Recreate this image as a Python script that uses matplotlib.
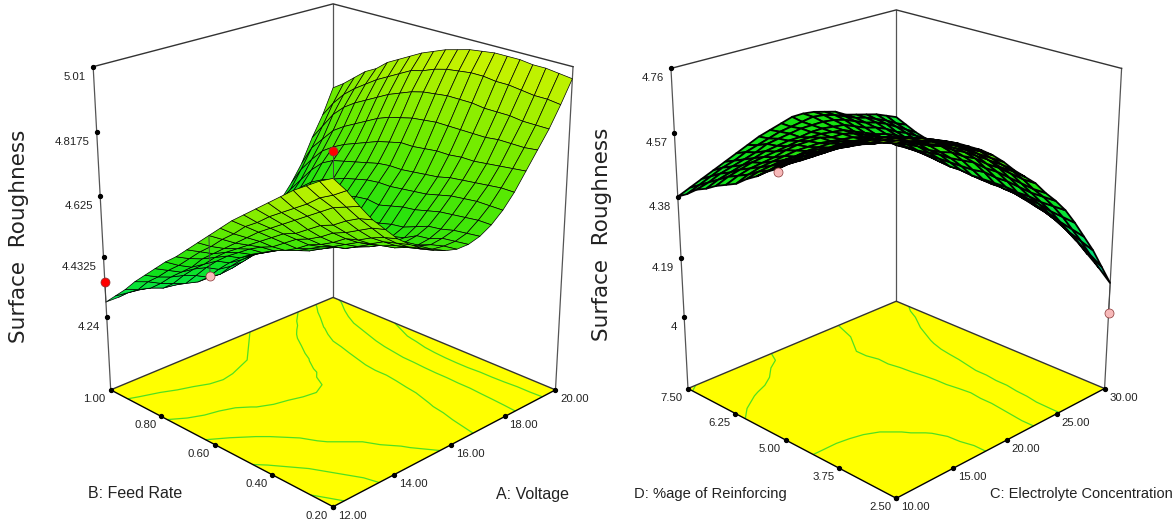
import numpy as np
import matplotlib
matplotlib.use('Agg')
import matplotlib.pyplot as plt
from matplotlib.colors import LinearSegmentedColormap, Normalize
from mpl_toolkits.mplot3d import proj3d

# left surface, rows = feed rate 0.20 -> 1.00, columns = voltage 12 -> 20
voltage = np.linspace(12, 20, 21)
feed_rate = np.linspace(0.2, 1.0, 21)
roughness_ab = np.array([
    [4.93, 4.885, 4.83, 4.78, 4.74, 4.70, 4.67, 4.645, 4.625, 4.61, 4.60, 4.60, 4.61, 4.63, 4.66, 4.70, 4.75, 4.80, 4.85, 4.91, 4.975],
    [4.91, 4.86, 4.815, 4.77, 4.73, 4.69, 4.66, 4.635, 4.615, 4.60, 4.595, 4.595, 4.605, 4.63, 4.66, 4.70, 4.745, 4.795, 4.85, 4.915, 4.98],
    [4.885, 4.84, 4.80, 4.75, 4.71, 4.675, 4.65, 4.625, 4.605, 4.595, 4.585, 4.59, 4.60, 4.625, 4.66, 4.695, 4.74, 4.795, 4.85, 4.915, 4.985],
    [4.86, 4.81, 4.775, 4.725, 4.69, 4.655, 4.63, 4.61, 4.59, 4.58, 4.57, 4.575, 4.59, 4.62, 4.655, 4.69, 4.735, 4.795, 4.855, 4.92, 4.985],
    [4.83, 4.785, 4.75, 4.71, 4.675, 4.645, 4.62, 4.60, 4.585, 4.575, 4.565, 4.57, 4.585, 4.615, 4.65, 4.685, 4.73, 4.79, 4.855, 4.925, 4.99],
    [4.80, 4.76, 4.725, 4.685, 4.65, 4.62, 4.60, 4.58, 4.565, 4.555, 4.55, 4.55, 4.57, 4.605, 4.64, 4.68, 4.73, 4.79, 4.855, 4.925, 4.99],
    [4.77, 4.735, 4.70, 4.66, 4.63, 4.60, 4.58, 4.56, 4.55, 4.54, 4.535, 4.54, 4.555, 4.595, 4.63, 4.67, 4.725, 4.79, 4.86, 4.93, 4.99],
    [4.74, 4.705, 4.675, 4.645, 4.615, 4.585, 4.565, 4.55, 4.54, 4.53, 4.525, 4.53, 4.55, 4.59, 4.625, 4.665, 4.725, 4.79, 4.86, 4.93, 4.985],
    [4.71, 4.68, 4.65, 4.62, 4.59, 4.56, 4.545, 4.53, 4.52, 4.515, 4.51, 4.515, 4.54, 4.58, 4.62, 4.66, 4.72, 4.79, 4.86, 4.925, 4.98],
    [4.675, 4.645, 4.62, 4.595, 4.565, 4.54, 4.525, 4.51, 4.505, 4.50, 4.495, 4.505, 4.535, 4.57, 4.615, 4.655, 4.715, 4.785, 4.855, 4.92, 4.97],
    [4.64, 4.615, 4.59, 4.57, 4.55, 4.525, 4.515, 4.505, 4.50, 4.495, 4.495, 4.51, 4.535, 4.575, 4.615, 4.655, 4.715, 4.78, 4.85, 4.91, 4.96],
    [4.605, 4.58, 4.56, 4.545, 4.53, 4.505, 4.495, 4.49, 4.485, 4.485, 4.49, 4.50, 4.53, 4.57, 4.61, 4.65, 4.705, 4.77, 4.84, 4.895, 4.945],
    [4.57, 4.55, 4.53, 4.52, 4.505, 4.485, 4.475, 4.47, 4.47, 4.475, 4.485, 4.495, 4.52, 4.56, 4.60, 4.64, 4.695, 4.76, 4.825, 4.885, 4.93],
    [4.535, 4.515, 4.50, 4.49, 4.48, 4.46, 4.455, 4.45, 4.455, 4.46, 4.47, 4.485, 4.51, 4.55, 4.59, 4.63, 4.68, 4.745, 4.81, 4.865, 4.91],
    [4.505, 4.48, 4.46, 4.455, 4.45, 4.43, 4.425, 4.425, 4.43, 4.44, 4.45, 4.47, 4.495, 4.535, 4.575, 4.62, 4.665, 4.725, 4.79, 4.845, 4.89],
    [4.47, 4.45, 4.43, 4.425, 4.415, 4.395, 4.39, 4.39, 4.40, 4.41, 4.425, 4.445, 4.475, 4.515, 4.56, 4.61, 4.65, 4.705, 4.77, 4.825, 4.87],
    [4.435, 4.415, 4.40, 4.39, 4.375, 4.355, 4.35, 4.355, 4.365, 4.38, 4.395, 4.415, 4.45, 4.49, 4.54, 4.59, 4.63, 4.685, 4.75, 4.80, 4.84],
    [4.40, 4.385, 4.365, 4.35, 4.335, 4.325, 4.325, 4.33, 4.34, 4.35, 4.365, 4.39, 4.42, 4.46, 4.51, 4.555, 4.605, 4.66, 4.725, 4.775, 4.82],
    [4.36, 4.345, 4.335, 4.32, 4.315, 4.315, 4.315, 4.32, 4.325, 4.335, 4.35, 4.365, 4.39, 4.43, 4.47, 4.51, 4.565, 4.62, 4.69, 4.745, 4.79],
    [4.325, 4.32, 4.315, 4.31, 4.31, 4.31, 4.31, 4.315, 4.32, 4.33, 4.34, 4.35, 4.37, 4.40, 4.435, 4.465, 4.52, 4.58, 4.64, 4.705, 4.76],
    [4.29, 4.29, 4.30, 4.305, 4.31, 4.315, 4.32, 4.325, 4.33, 4.335, 4.34, 4.345, 4.35, 4.36, 4.38, 4.415, 4.46, 4.515, 4.59, 4.655, 4.735],
])

# right surface, rows = reinforcing 2.50 -> 7.50, columns = electrolyte 10 -> 30
electrolyte = np.linspace(10, 30, 21)
reinforcing = np.linspace(2.5, 7.5, 21)
roughness_cd = np.array([
    [4.76, 4.755, 4.745, 4.735, 4.72, 4.705, 4.685, 4.665, 4.64, 4.61, 4.575, 4.545, 4.515, 4.475, 4.44, 4.40, 4.35, 4.295, 4.24, 4.175, 4.11],
    [4.75, 4.745, 4.74, 4.73, 4.715, 4.70, 4.68, 4.66, 4.64, 4.61, 4.58, 4.55, 4.515, 4.475, 4.44, 4.40, 4.355, 4.305, 4.255, 4.20, 4.145],
    [4.74, 4.735, 4.73, 4.72, 4.705, 4.69, 4.675, 4.655, 4.635, 4.61, 4.58, 4.55, 4.52, 4.48, 4.44, 4.40, 4.36, 4.315, 4.27, 4.225, 4.175],
    [4.73, 4.725, 4.72, 4.71, 4.70, 4.685, 4.67, 4.65, 4.635, 4.61, 4.59, 4.56, 4.525, 4.485, 4.445, 4.405, 4.37, 4.33, 4.29, 4.25, 4.205],
    [4.715, 4.71, 4.705, 4.70, 4.685, 4.67, 4.655, 4.645, 4.625, 4.605, 4.59, 4.56, 4.525, 4.49, 4.45, 4.405, 4.375, 4.34, 4.305, 4.27, 4.23],
    [4.695, 4.695, 4.69, 4.68, 4.67, 4.655, 4.645, 4.63, 4.615, 4.60, 4.585, 4.56, 4.53, 4.49, 4.45, 4.41, 4.38, 4.35, 4.315, 4.285, 4.25],
    [4.67, 4.67, 4.67, 4.665, 4.655, 4.645, 4.635, 4.62, 4.605, 4.595, 4.585, 4.555, 4.525, 4.495, 4.455, 4.41, 4.38, 4.355, 4.325, 4.30, 4.27],
    [4.65, 4.65, 4.65, 4.645, 4.64, 4.635, 4.625, 4.615, 4.60, 4.59, 4.58, 4.555, 4.525, 4.49, 4.45, 4.41, 4.385, 4.36, 4.335, 4.31, 4.285],
    [4.625, 4.625, 4.625, 4.625, 4.62, 4.615, 4.605, 4.60, 4.59, 4.58, 4.565, 4.545, 4.515, 4.485, 4.45, 4.41, 4.385, 4.36, 4.34, 4.32, 4.30],
    [4.605, 4.605, 4.605, 4.605, 4.605, 4.60, 4.595, 4.59, 4.58, 4.57, 4.56, 4.54, 4.51, 4.485, 4.45, 4.415, 4.39, 4.37, 4.35, 4.33, 4.31],
    [4.58, 4.585, 4.59, 4.59, 4.59, 4.585, 4.58, 4.575, 4.57, 4.56, 4.555, 4.535, 4.51, 4.48, 4.45, 4.415, 4.395, 4.37, 4.355, 4.34, 4.32],
    [4.56, 4.565, 4.57, 4.57, 4.57, 4.565, 4.565, 4.56, 4.555, 4.545, 4.54, 4.525, 4.505, 4.475, 4.45, 4.42, 4.395, 4.38, 4.36, 4.345, 4.33],
    [4.535, 4.54, 4.55, 4.555, 4.555, 4.555, 4.55, 4.55, 4.545, 4.535, 4.53, 4.515, 4.50, 4.475, 4.45, 4.425, 4.40, 4.38, 4.365, 4.35, 4.34],
    [4.515, 4.525, 4.53, 4.535, 4.535, 4.54, 4.54, 4.54, 4.535, 4.525, 4.52, 4.51, 4.495, 4.47, 4.45, 4.43, 4.41, 4.385, 4.37, 4.355, 4.345],
    [4.49, 4.505, 4.515, 4.52, 4.525, 4.53, 4.53, 4.53, 4.525, 4.52, 4.515, 4.505, 4.495, 4.475, 4.455, 4.435, 4.415, 4.395, 4.375, 4.36, 4.35],
    [4.475, 4.49, 4.50, 4.505, 4.51, 4.52, 4.525, 4.525, 4.525, 4.515, 4.515, 4.505, 4.49, 4.475, 4.455, 4.445, 4.425, 4.405, 4.385, 4.37, 4.355],
    [4.46, 4.475, 4.485, 4.495, 4.50, 4.505, 4.51, 4.515, 4.515, 4.515, 4.51, 4.505, 4.49, 4.475, 4.46, 4.45, 4.435, 4.415, 4.395, 4.38, 4.36],
    [4.44, 4.455, 4.465, 4.475, 4.485, 4.495, 4.50, 4.505, 4.505, 4.51, 4.51, 4.505, 4.50, 4.485, 4.47, 4.46, 4.445, 4.425, 4.41, 4.39, 4.37],
    [4.425, 4.435, 4.45, 4.46, 4.47, 4.48, 4.495, 4.50, 4.505, 4.51, 4.51, 4.51, 4.505, 4.495, 4.48, 4.465, 4.455, 4.44, 4.42, 4.40, 4.38],
    [4.40, 4.415, 4.43, 4.445, 4.455, 4.47, 4.48, 4.49, 4.50, 4.505, 4.51, 4.515, 4.51, 4.50, 4.485, 4.47, 4.46, 4.445, 4.43, 4.41, 4.395],
    [4.38, 4.395, 4.41, 4.425, 4.44, 4.455, 4.47, 4.485, 4.495, 4.505, 4.515, 4.515, 4.51, 4.50, 4.49, 4.47, 4.46, 4.45, 4.44, 4.425, 4.41],
])

# tick labels
a_ticks = ['12.00', '14.00', '16.00', '18.00', '20.00']
b_ticks = ['0.20', '0.40', '0.60', '0.80', '1.00']
z_ticks_ab = ['4.24', '4.4325', '4.625', '4.8175', '5.01']
c_ticks = ['10.00', '15.00', '20.00', '25.00', '30.00']
d_ticks = ['2.50', '3.75', '5.00', '6.25', '7.50']
z_ticks_cd = ['4', '4.19', '4.38', '4.57', '4.76']

# contour levels on the floor
levels_ab = [4.35, 4.49, 4.61, 4.75, 4.89]
levels_cd = [4.39, 4.49, 4.64]

# design points: x, y, z, colour
points_ab = [(12, 1.0, 4.355, 'red'), (12, 0.6, 4.52, '#f7b9b9'), (12, 0.2, 5.0, 'red')]
points_cd = [(10, 5.0, 4.57, '#f7b9b9'), (30, 2.5, 4.015, '#f7b9b9')]

cmap = LinearSegmentedColormap.from_list('rsm', [
    (0.00, (0.0, 0.72, 0.72)),
    (0.16, (0.0, 0.84, 0.55)),
    (0.26, (0.0, 0.90, 0.36)),
    (0.47, (0.07, 0.88, 0.07)),
    (0.68, (0.40, 0.92, 0.0)),
    (1.00, (0.88, 0.96, 0.0))])
norm = Normalize(4.05, 5.0)


def put_label(ax, x, y, z, s, dx, dy, ha='center'):
    px, py, _ = proj3d.proj_transform(x, y, z, ax.get_proj())
    ax.annotate(s, (px, py), xytext=(dx, dy), textcoords='offset pixels', ha=ha, va='center',
                family='Liberation Sans', fontsize=8.2, color='#222222', annotation_clip=False)


def draw_panel(rect, xs, ys, zs, floor, ztop, xt, yt, zt, levels, points, line_w, z_box):
    ax = fig.add_axes(rect, projection='3d', computed_zorder=False)
    ax.set_proj_type('persp', focal_length=0.58)
    ax.view_init(elev=22.5, azim=-135)
    ax.set_box_aspect((1, 1, z_box), zoom=1.0)
    ax.set_xlim(xs[0], xs[-1])
    ax.set_ylim(ys[0], ys[-1])
    ax.set_zlim(floor, ztop)
    ax.set_axis_off()
    ax.patch.set_alpha(0)

    x0, x1, y0, y1 = xs[0], xs[-1], ys[0], ys[-1]
    # floor and contours
    fx, fy = np.meshgrid([x0, x1], [y0, y1])
    ax.plot_surface(fx, fy, np.full((2, 2), floor), color='#ffff00', shade=False, linewidth=0, zorder=1)
    X, Y = np.meshgrid(xs, ys)
    ax.contour(X, Y, zs, levels=levels, zdir='z', offset=floor, colors='#50e020', linewidths=0.9, zorder=2)

    # box
    box = '#555555'
    for bx, by in [(x0, y1), (x1, y1), (x1, y0)]:
        ax.plot([bx, bx], [by, by], [floor, ztop], color=box, lw=0.9, zorder=3)
    ax.plot([x0, x1, x1], [y1, y1, y0], [ztop, ztop, ztop], color='#333333', lw=1.0, zorder=3)
    ax.plot([x0, x1, x1], [y1, y1, y0], [floor, floor, floor], color='#333333', lw=1.0, zorder=3)
    ax.plot([x0, x0, x1], [y1, y0, y0], [floor, floor, floor], color='black', lw=1.0, zorder=3)

    # surface
    ax.plot_surface(X, Y, zs, facecolors=cmap(norm(zs)), rstride=1, cstride=1, shade=False,
                    edgecolor='black', linewidth=line_w, zorder=4)

    # ticks
    xv = np.linspace(x0, x1, len(xt))
    yv = np.linspace(y0, y1, len(yt))
    zv = [float(t) for t in zt]
    ax.plot(xv, [y0] * len(xv), [floor] * len(xv), 'o', color='black', ms=2.8, zorder=5)
    ax.plot([x0] * len(yv), yv, [floor] * len(yv), 'o', color='black', ms=2.8, zorder=5)
    ax.plot([x0] * len(zv), [y1] * len(zv), zv, 'o', color='black', ms=2.8, zorder=5)
    for v, s in zip(xv, xt):
        put_label(ax, v, y0, floor, s, 19, -9)
    for v, s in zip(yv, yt):
        put_label(ax, x0, v, floor, s, -16, -9)
    for v, s in zip(zv, zt):
        put_label(ax, x0, y1, v, s, -7, -10, ha='right')

    # design points with stems up to or down to the surface
    for px, py, pz, col in points:
        sz = zs[np.argmin(np.abs(ys - py)), np.argmin(np.abs(xs - px))]
        ax.plot([px, px], [py, py], [pz, sz], color='#444444', lw=0.7, zorder=6)
        ax.plot([px], [py], [pz], 'o', color=col, mec='#883333', mew=0.5, ms=6.5, zorder=7)
    return ax


W, H = 1173, 522
fig = plt.figure(figsize=(W / 100, H / 100), dpi=100)


def square(cx, cy, s):
    return [(cx - s / 2) / W, 1 - (cy + s / 2) / H, s / W, s / H]


draw_panel(square(325.5, 242, 562), voltage, feed_rate, roughness_ab, 4.0, 5.01,
           a_ticks, b_ticks, z_ticks_ab, levels_ab, points_ab, 0.5, 1.07)
draw_panel(square(889, 242, 538), electrolyte, reinforcing, roughness_cd, 3.765, 4.76,
           c_ticks, d_ticks, z_ticks_cd, levels_cd, points_cd, 1.3, 1.13)

for x, s, size in [(135, 'B: Feed Rate', 11.5), (532, 'A: Voltage', 11.5), (710, 'D: %age of Reinforcing', 10.6),
                   (1081, 'C: Electrolyte Concentration', 10.5)]:
    fig.text(x / W, 1 - 494 / H, s, ha='center', va='center', family='Liberation Sans', fontsize=size, color='#222222')
for x, y in [(19.5, 236), (602, 234)]:
    fig.text(x / W, 1 - y / H, 'Surface  Roughness', rotation=90, ha='center', va='center',
             family='DejaVu Sans', fontsize=15.5, color='#222222')

fig.savefig('out.png', dpi=100)
